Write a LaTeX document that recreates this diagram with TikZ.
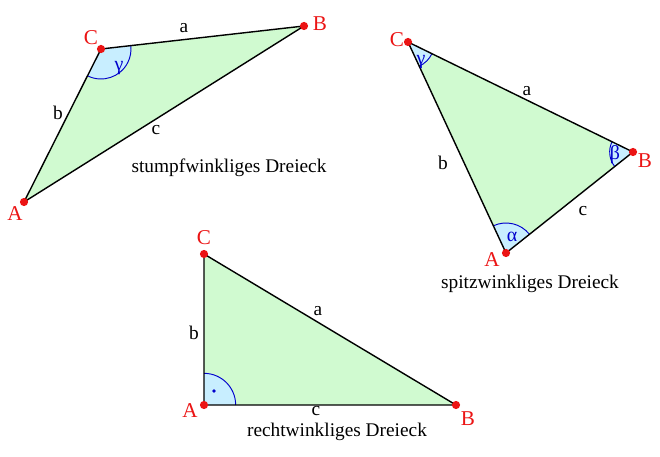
\documentclass[tikz,border=0pt]{standalone}
\usepackage{fontspec}
\setmainfont{Liberation Serif}
\usepackage{xcolor}
\usetikzlibrary{angles}

\definecolor{areagreen}{RGB}{208,250,208}
\definecolor{anglefill}{RGB}{200,238,255}
\definecolor{vertexred}{RGB}{235,20,20}

\tikzset{
    tri/.style={fill=areagreen},
    side/.style={draw=black, line width=1.2pt, line join=round},
    ang/.style={draw=blue!80!black, fill=anglefill, thick},
    pt/.style={circle, fill=vertexred, inner sep=0pt, minimum size=7pt},
    vlabel/.style={text=vertexred, font=\fontsize{18}{20}\selectfont},
    slabel/.style={font=\fontsize{16.5}{19}\selectfont},
    glabel/.style={text=blue!80!black, font=\fontsize{17}{19}\selectfont},
}

\begin{document}
\begin{tikzpicture}[x=0.03cm, y=-0.03cm]
    \useasboundingbox (0,0) rectangle (660,457);
    % Vertices
    \coordinate (A1) at ( 24,202); \coordinate (B1) at (304, 26); \coordinate (C1) at (101, 49);
    \coordinate (A2) at (506,253); \coordinate (B2) at (633,152); \coordinate (C2) at (408, 42);
    \coordinate (A3) at (204,405); \coordinate (B3) at (456,405); \coordinate (C3) at (204,254);
    % Areas
    \fill[tri] (A1) -- (B1) -- (C1) -- cycle;
    \fill[tri] (A2) -- (B2) -- (C2) -- cycle;
    \fill[tri] (A3) -- (B3) -- (C3) -- cycle;
    % Angles
    \pic[ang, angle radius=0.9cm] {angle=A1--C1--B1};
    \pic[ang, angle radius=0.8cm] {angle=A2--C2--B2};
    \pic[ang, angle radius=0.7cm] {angle=C2--B2--A2};
    \pic[ang, angle radius=0.9cm] {angle=B2--A2--C2};
    \pic[ang, angle radius=0.95cm] {angle=B3--A3--C3};
    \fill[blue!80!black] (214,391) circle (1.5pt);
    % Sides
    \draw[side] (A1) -- (B1) -- (C1) -- cycle;
    \draw[side] (A2) -- (B2) -- (C2) -- cycle;
    \draw[side] (A3) -- (B3) -- (C3) -- cycle;
    % Points
    \foreach \p in {A1,B1,C1,A2,B2,C2,A3,B3,C3} \node[pt] at (\p) {};
    % Vertex labels
    \node[vlabel] (lA1) at ( 15,214) {A};
    \node[vlabel] (lB1) at (320, 24) {B};
    \node[vlabel] (lC1) at ( 91, 38) {C};
    \node[vlabel] (lA2) at (492,260) {A};
    \node[vlabel] (lB2) at (645,161) {B};
    \node[vlabel] (lC2) at (397, 40) {C};
    \node[vlabel] (lA3) at (190,411) {A};
    \node[vlabel] (lB3) at (468,419) {B};
    \node[vlabel] (lC3) at (204,238) {C};
    % Side and angle labels
    \node[slabel] (sa1) at (184, 28) {a};
    \node[slabel] (sb1) at ( 58,113) {b};
    \node[slabel] (sc1) at (156,130) {c};
    \node[glabel] (g1) at (119, 68) {γ};
    \node[slabel] (sa2) at (527, 91) {a};
    \node[slabel] (sb2) at (443,163) {b};
    \node[slabel] (sc2) at (583,211) {c};
    \node[glabel] (g2) at (421, 62) {γ};
    \node[glabel] (be2) at (615,155) {β};
    \node[glabel] (al2) at (512,237) {α};
    \node[slabel] (sa3) at (318,311) {a};
    \node[slabel] (sb3) at (194,333) {b};
    \node[slabel] (sc3) at (316,411) {c};
    % Titles
    \node[slabel] (t1) at (229,168) {stumpfwinkliges Dreieck};
    \node[slabel] (t2) at (530,284) {spitzwinkliges Dreieck};
    \node[slabel] (t3) at (337,432) {rechtwinkliges Dreieck};
\end{tikzpicture}
\end{document}
